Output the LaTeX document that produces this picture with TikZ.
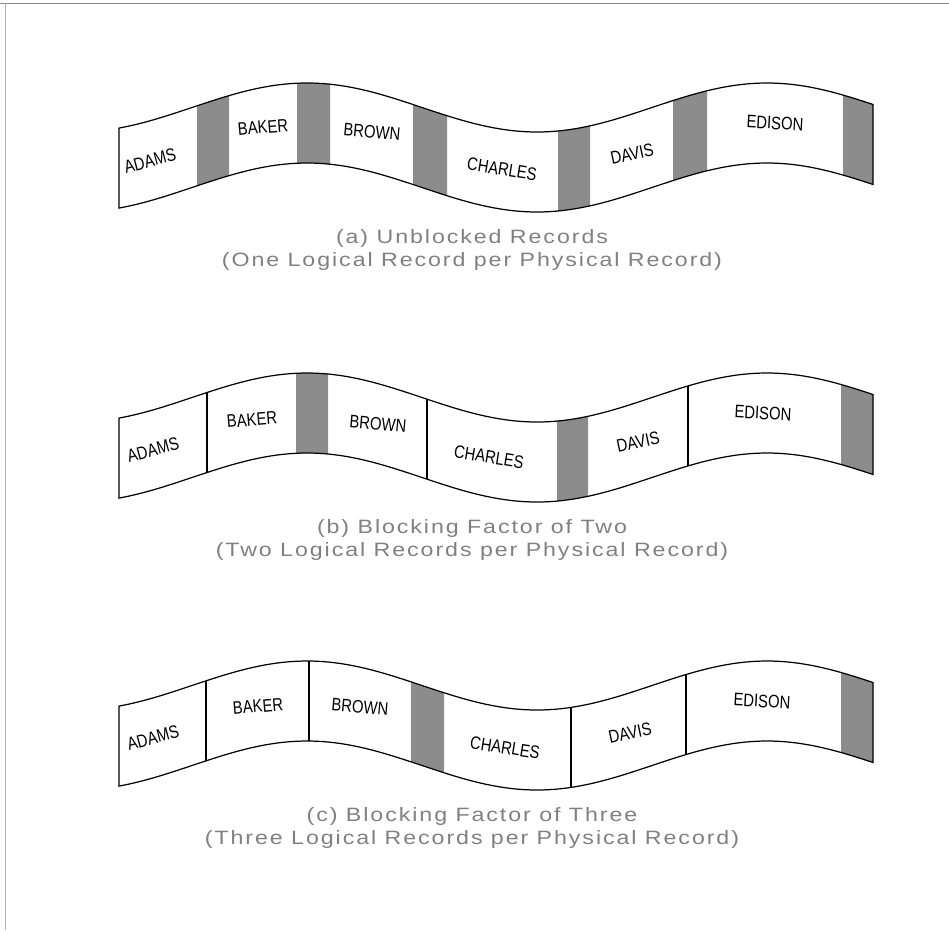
\documentclass[tikz,border=0pt]{standalone}
\usepackage{fontspec}
\setmainfont{Liberation Sans}
\newfontfamily\recfont[FakeStretch=0.82]{Liberation Sans}
\newfontfamily\capfont[FakeStretch=1.2,LetterSpace=10]{Liberation Sans}

% shaded inter-record gap between two x positions
\newcommand{\gapblock}[2]{%
  \fill[gapfill] plot[domain=#1:#2,samples=10] (\x,{ytop(\x)})
    -- plot[domain=#2:#1,samples=10] (\x,{ytop(\x)+80}) -- cycle;}
% thin line between two logical records
\newcommand{\divider}[1]{\draw[tapeline] (#1,{ytop(#1)}) -- (#1,{ytop(#1)+80});}
% outline of the whole tape
\newcommand{\tapeoutline}{%
  \draw[tapeline] plot[domain=119:873,samples=120] (\x,{ytop(\x)})
    -- plot[domain=873:119,samples=120] (\x,{ytop(\x)+80}) -- cycle;}

\begin{document}
\begin{tikzpicture}[x=0.02cm, y=-0.02cm,
    declare function={ytop(\x)=107.5-24.5*cos(0.782609*(\x-307));},
    tapeline/.style={line width=0.7pt},
    gapfill/.style={fill=black!45},
    rec/.style={font=\recfont\fontsize{10.3}{12}\selectfont, inner sep=1pt},
    caption/.style={font=\capfont\fontsize{11}{13.6}\selectfont, text=black!50, align=center}]
    \useasboundingbox (0,0) rectangle (949,930);

    % Rand des Scans
    \draw[black!45, line width=0.5pt] (0,3) -- (949,3);
    \draw[black!30, line width=0.5pt] (5,3) -- (5,930);

    % Band (a): ungeblockt
    \begin{scope}
        \gapblock{197}{229}
        \gapblock{297}{330}
        \gapblock{413}{447}
        \gapblock{558}{590}
        \gapblock{673}{707}
        \gapblock{843}{873}
        \tapeoutline

        \node[rec, rotate=15] (a-adams) at (150,{ytop(150)+40}) {ADAMS};
        \node[rec, rotate=5] (a-baker) at (263,{ytop(263)+40}) {BAKER};
        \node[rec, rotate=-5] (a-brown) at (372,{ytop(372)+40}) {BROWN};
        \node[rec, rotate=-9] (a-charles) at (502,{ytop(502)+40}) {CHARLES};
        \node[rec, rotate=12] (a-davis) at (632,{ytop(632)+40}) {DAVIS};
        \node[rec, rotate=-3] (a-edison) at (775,{ytop(775)+40}) {EDISON};
    \end{scope}
    \node[caption] (a-cap) at (472,250) {(a) Unblocked Records\\(One Logical Record per Physical Record)};

    % Band (b): Blockungsfaktor 2
    \begin{scope}[shift={(0,290)}]
        \gapblock{296}{328}
        \gapblock{557}{588}
        \gapblock{841}{873}
        \tapeoutline
        \divider{207}
        \divider{427}
        \divider{688}

        \node[rec, rotate=15] (b-adams) at (153,{ytop(153)+40}) {ADAMS};
        \node[rec, rotate=5] (b-baker) at (252,{ytop(252)+40}) {BAKER};
        \node[rec, rotate=-5] (b-brown) at (378,{ytop(378)+40}) {BROWN};
        \node[rec, rotate=-9] (b-charles) at (489,{ytop(489)+40}) {CHARLES};
        \node[rec, rotate=12] (b-davis) at (638,{ytop(638)+40}) {DAVIS};
        \node[rec, rotate=-3] (b-edison) at (763,{ytop(763)+40}) {EDISON};
    \end{scope}
    \node[caption] (b-cap) at (472,540) {(b) Blocking Factor of Two\\(Two Logical Records per Physical Record)};

    % Band (c): Blockungsfaktor 3
    \begin{scope}[shift={(0,578)}]
        \gapblock{411}{444}
        \gapblock{841}{873}
        \tapeoutline
        \divider{206}
        \divider{309}
        \divider{571}
        \divider{686}

        \node[rec, rotate=15] (c-adams) at (153,{ytop(153)+40}) {ADAMS};
        \node[rec, rotate=5] (c-baker) at (258,{ytop(258)+40}) {BAKER};
        \node[rec, rotate=-5] (c-brown) at (360,{ytop(360)+40}) {BROWN};
        \node[rec, rotate=-9] (c-charles) at (505,{ytop(505)+40}) {CHARLES};
        \node[rec, rotate=12] (c-davis) at (630,{ytop(630)+40}) {DAVIS};
        \node[rec, rotate=-3] (c-edison) at (762,{ytop(762)+40}) {EDISON};
    \end{scope}
    \node[caption] (c-cap) at (472,828) {(c) Blocking Factor of Three\\(Three Logical Records per Physical Record)};
\end{tikzpicture}
\end{document}
